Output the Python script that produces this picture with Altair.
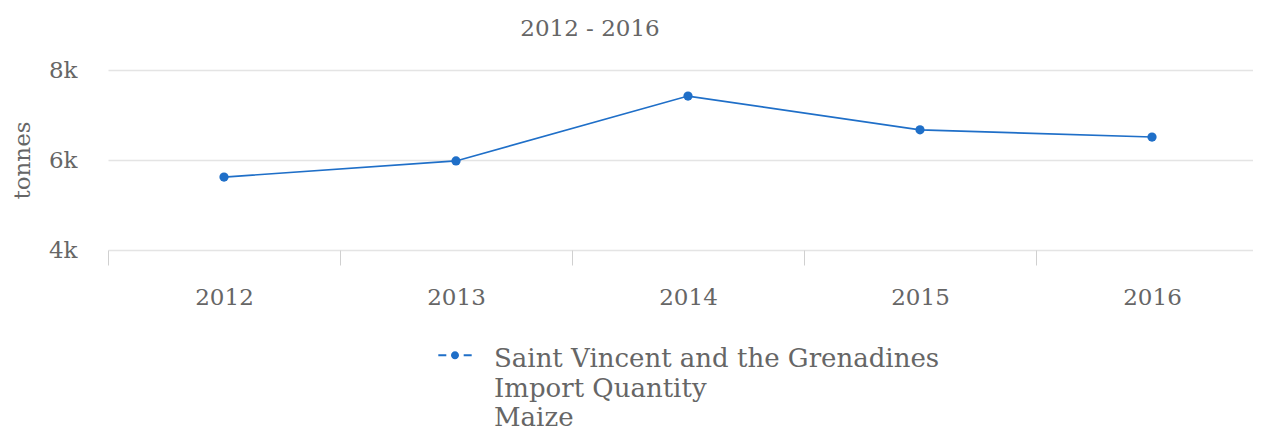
import altair as alt
import pandas as pd

years = ["2012", "2013", "2014", "2015", "2016"]
values = [5620, 5980, 7420, 6670, 6510]
series_name = "Saint Vincent and the Grenadines|Import Quantity|Maize"
y_ticks = [4000, 6000, 8000]

df = pd.DataFrame({"year": years, "value": values, "series": [series_name] * len(years)})

BLUE = "#1f6fc8"
FONT = "DejaVu Serif"
TXT = "#666666"

symbol_path = (
    "M-1,0.5H-0.52V0.62H-1Z "
    "M0.52,0.5H1V0.62H0.52Z "
    "M-0.24,0.56A0.24,0.24 0 1,0 0.24,0.56A0.24,0.24 0 1,0 -0.24,0.56Z"
)

x_enc = alt.X(
    "year:O",
    scale=alt.Scale(type="band", paddingInner=0, paddingOuter=0),
    axis=alt.Axis(
        title=None, labelAngle=0, tickBand="extent", ticks=True, tickSize=15,
        tickColor="#d0d0d0", tickWidth=1, domain=False, grid=False,
        labelPadding=21, labelFont=FONT, labelFontSize=23, labelColor=TXT,
    ),
)
y_enc = alt.Y(
    "value:Q",
    scale=alt.Scale(domain=[4000, 8000], nice=False, zero=False),
    axis=alt.Axis(
        values=y_ticks, format="~s", title="tonnes", ticks=False, domain=False,
        gridColor="#e4e4e4", gridWidth=1.5, labelPadding=31,
        labelFont=FONT, labelFontSize=23, labelColor=TXT,
        titleFont=FONT, titleFontSize=23, titleColor=TXT, titleFontWeight="normal",
        titleX=-86, titleY=90, titleBaseline="middle",
    ),
)

line = alt.Chart(df).mark_line(color=BLUE, strokeWidth=1.6).encode(x=x_enc, y=y_enc)
points = alt.Chart(df).mark_circle(size=85, opacity=1).encode(
    x=x_enc,
    y=y_enc,
    color=alt.Color(
        "series:N",
        scale=alt.Scale(range=[BLUE]),
        legend=alt.Legend(
            title=None, orient="none", legendX=330, legendY=259, padding=0,
            symbolType=symbol_path, symbolSize=1115, symbolStrokeWidth=0,
            labelFont=FONT, labelFontSize=26, labelColor=TXT, labelOffset=22,
            labelLimit=0, labelBaseline="top",
            labelExpr="split(datum.label, '|')",
        ),
    ),
)

chart = (
    alt.layer(line, points)
    .properties(
        width=1160, height=180,
        title=alt.TitleParams(
            "2012 - 2016", font=FONT, fontSize=23, color=TXT, fontWeight="normal",
            anchor="middle", dx=-98, offset=7, baseline="middle",
        ),
        autosize=alt.AutoSizeParams(type="none"),
        padding={"left": 100, "top": 62, "right": -15, "bottom": 183},
    )
    .configure(background="white", style={"guide-label": {"lineHeight": 29.5}})
    .configure_view(stroke=None)
)

chart.save("out.html", embed_options={"renderer": "svg", "actions": False})
